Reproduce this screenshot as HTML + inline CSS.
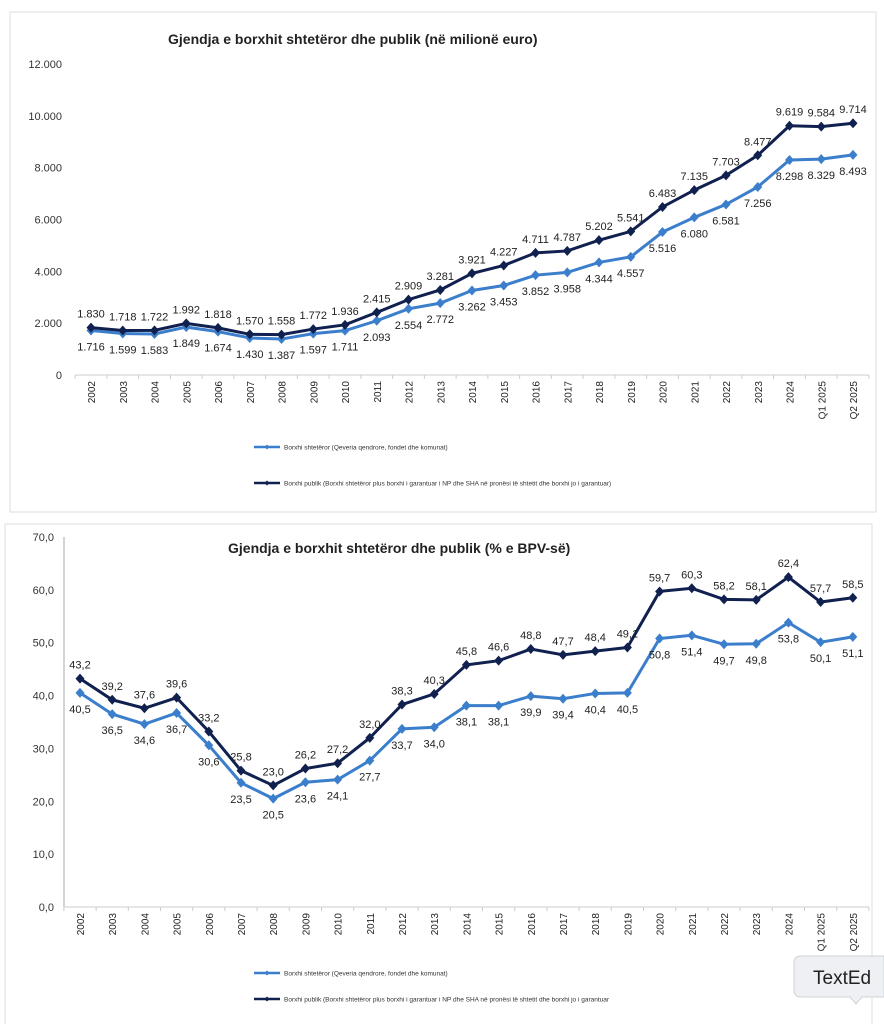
<!DOCTYPE html>
<html><head><meta charset="utf-8"><style>
body{margin:0;background:#fff;width:884px;height:1024px;overflow:hidden;font-family:"Liberation Sans",sans-serif}
svg{position:absolute;left:0;top:0}
</style></head><body>
<svg id="s" width="884" height="1024" xmlns="http://www.w3.org/2000/svg"></svg>
<script>
const s=document.getElementById('s');let h='';
const yrs=[];for(let y=2002;y<=2024;y++)yrs.push(''+y);yrs.push('Q1 2025','Q2 2025');
const DK='#10204f',LT='#3b7fcc';
function fmtT(v){return (v>=1000?Math.floor(v/1000)+'.'+String(v%1000).padStart(3,'0'):''+v);}
function fmtP(v){return v.toFixed(1).replace('.',',');}
function chart(o){
 h+=`<rect x="${o.bx}" y="${o.by}" width="${o.bw}" height="${o.bh}" fill="#fff" stroke="#ddd"/>`;
 h+=`<text x="${o.tx}" y="${o.ty}" font-size="14" font-weight="bold" fill="#222">${o.title}</text>`;
 const Y=v=>o.y0-(v-o.ymin)/(o.ymax-o.ymin)*(o.y0-o.y1);
 const X=i=>o.x0+i*o.dx;
 for(let v=o.ymin;v<=o.ymax;v+=o.step)h+=`<text x="${o.lx}" y="${Y(v)+4}" font-size="11" text-anchor="end" fill="#333">${o.f2(v)}</text>`;
 if(o.vaxis)h+=`<line x1="${o.vaxis}" y1="${o.y1}" x2="${o.vaxis}" y2="${o.y0}" stroke="#aaa"/>`;
 h+=`<line x1="${X(0)-o.dx/2}" y1="${o.y0}" x2="${X(24)+o.dx/2}" y2="${o.y0}" stroke="#ccc"/>`;
 for(let i=0;i<=25;i++){const x=X(i)-o.dx/2;h+=`<line x1="${x}" y1="${o.y0}" x2="${x}" y2="${o.y0+4}" stroke="#ccc"/>`;}
 yrs.forEach((l,i)=>h+=`<text transform="translate(${X(i)+4},${o.y0+6}) rotate(-90)" font-size="10" text-anchor="end" fill="#222">${l}</text>`);
 [[o.lt,LT,1],[o.dk,DK,-1]].forEach(([d,c,sg])=>{
  h+=`<polyline fill="none" stroke="${c}" stroke-width="3" points="${d.map((v,i)=>X(i)+','+Y(v)).join(' ')}"/>`;
  d.forEach((v,i)=>{const x=X(i),y=Y(v);h+=`<path d="M${x} ${y-5}L${x+4.5} ${y}L${x} ${y+5}L${x-4.5} ${y}Z" fill="${c}"/>`;
   h+=`<text x="${x}" y="${sg<0?y-10:y+20}" font-size="11" text-anchor="middle" fill="#222">${o.f(v)}</text>`;});
 });
 o.leg.forEach((t,k)=>{const y=o.legy[k],c=k?DK:LT;
  h+=`<line x1="${o.legx}" y1="${y}" x2="${o.legx+26}" y2="${y}" stroke="${c}" stroke-width="2.5"/><path d="M${o.legx+13} ${y-2.5}L${o.legx+15.5} ${y}L${o.legx+13} ${y+2.5}L${o.legx+10.5} ${y}Z" fill="${c}"/>`;
  h+=`<text x="${o.legx+30}" y="${y+2.5}" font-size="6.5" fill="#333">${t}</text>`;});
}
chart({bx:10,by:12,bw:866,bh:500,tx:168,ty:44,title:'Gjendja e borxhit shtetëror dhe publik (në milionë euro)',
 y0:375,y1:64,ymin:0,ymax:12000,step:2000,lx:62,f2:fmtT,f:fmtT,x0:91,dx:31.75,
 lt:[1716,1599,1583,1849,1674,1430,1387,1597,1711,2093,2554,2772,3262,3453,3852,3958,4344,4557,5516,6080,6581,7256,8298,8329,8493],
 dk:[1830,1718,1722,1992,1818,1570,1558,1772,1936,2415,2909,3281,3921,4227,4711,4787,5202,5541,6483,7135,7703,8477,9619,9584,9714],
 legx:254,legy:447,leg:['Borxhi shtetëror (Qeveria qendrore, fondet dhe komunat)','Borxhi publik (Borxhi shtetëror plus borxhi i garantuar i NP dhe SHA në pronësi të shtetit dhe borxhi jo i  garantuar)'],legy:[447,483]});
chart({bx:5,by:524,bw:867,bh:520,tx:228,ty:553,title:'Gjendja e borxhit shtetëror dhe publik (% e BPV-së)',
 y0:907,y1:537,ymin:0,ymax:70,step:10,lx:54,f2:fmtP,f:fmtP,x0:80,dx:32.2,vaxis:64,
 lt:[40.5,36.5,34.6,36.7,30.6,23.5,20.5,23.6,24.1,27.7,33.7,34.0,38.1,38.1,39.9,39.4,40.4,40.5,50.8,51.4,49.7,49.8,53.8,50.1,51.1],
 dk:[43.2,39.2,37.6,39.6,33.2,25.8,23.0,26.2,27.2,32.0,38.3,40.3,45.8,46.6,48.8,47.7,48.4,49.1,59.7,60.3,58.2,58.1,62.4,57.7,58.5],
 legx:254,leg:['Borxhi shtetëror (Qeveria qendrore, fondet dhe komunat)','Borxhi publik (Borxhi shtetëror plus borxhi i garantuar i NP dhe SHA në pronësi të shtetit dhe borxhi jo i garantuar'],legy:[973,999]});
h+=`<path d="M801 956H884V997H862L856 1004L850 997H801Q794 997 794 990V963Q794 956 801 956Z" fill="#eef0f3" stroke="#cfd3d8"/>`;
h+=`<text x="813" y="984" font-size="19" fill="#222">TextEd</text>`;
s.innerHTML=h;
</script>
</body></html>
